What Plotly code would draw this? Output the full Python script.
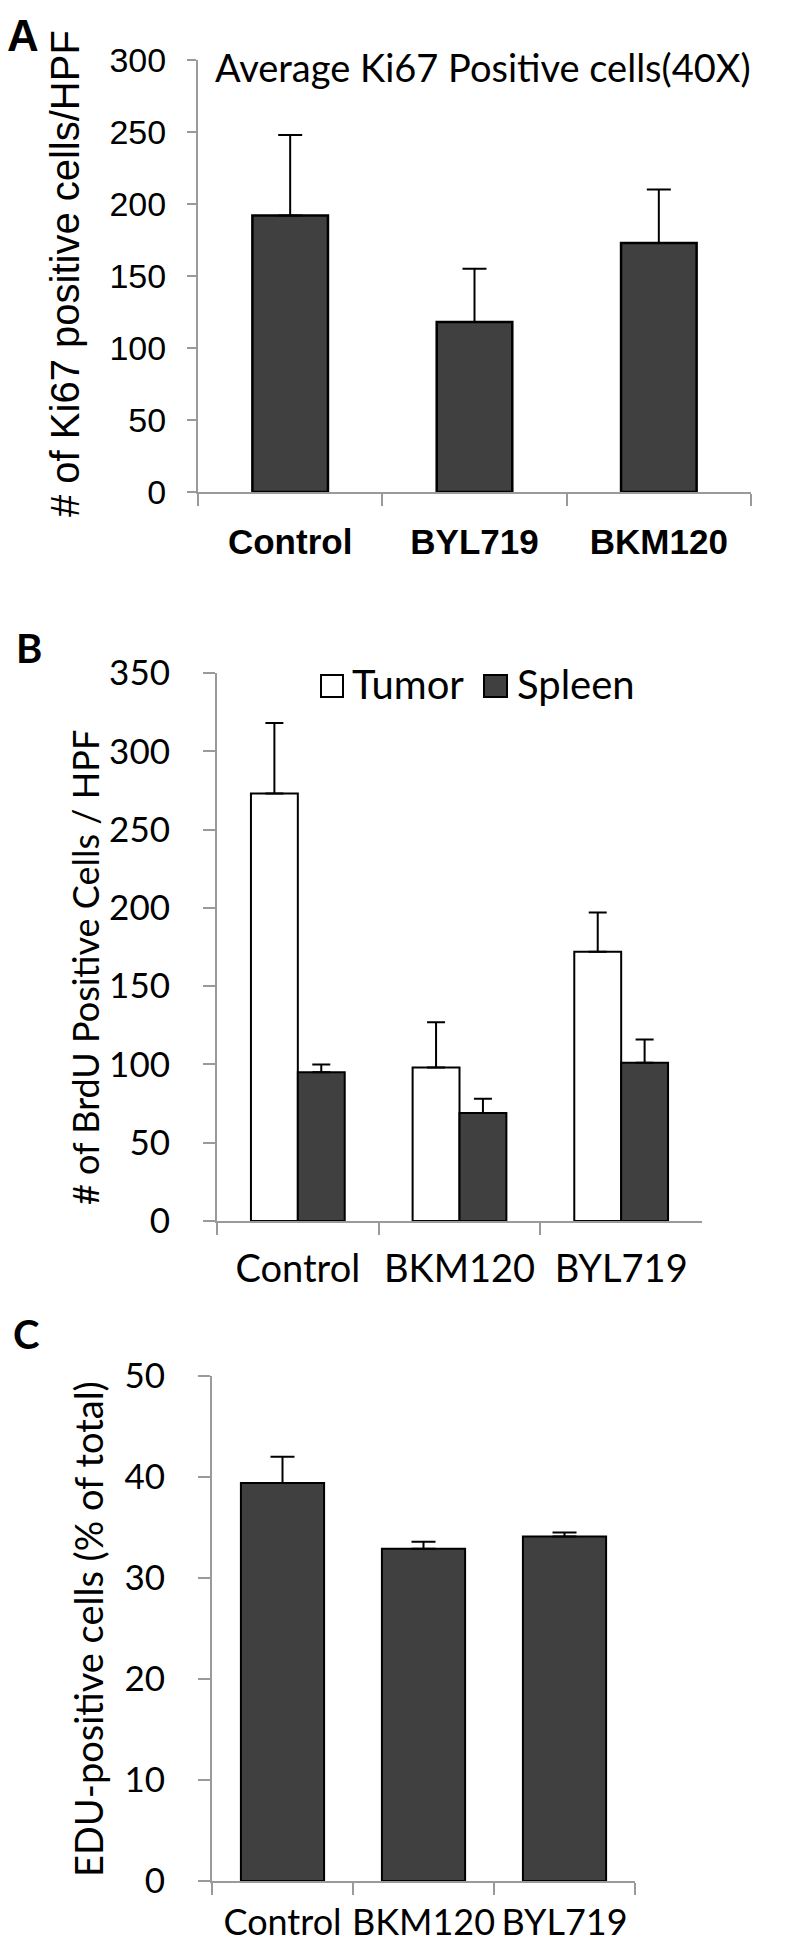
"""Trois panneaux de barres : Ki67 (A), BrdU (B) et EdU (C)"""
import plotly.graph_objects as go

# ---- donnees ----
a_cats = ["Control", "BYL719", "BKM120"]
a_vals = [192, 118, 173]
a_err = [56, 37, 37]

b_cats = ["Control", "BKM120", "BYL719"]
b_tumor = [273, 98, 172]
b_tumor_err = [45, 29, 25]
b_spleen = [95, 69, 101]
b_spleen_err = [5, 9, 15]

c_cats = ["Control", "BKM120", "BYL719"]
c_vals = [39.4, 32.9, 34.1]
c_err = [2.6, 0.7, 0.4]

W, H = 786, 1942
DARK = "#404040"
GREY = "#9a9a9a"
CAL = "Lato"
ARI = "Liberation Sans"


def px(x, y):
    """pixels -> coordonnees papier"""
    return x / W, 1 - y / H


def dom_x(x0, x1):
    return [x0 / W, x1 / W]


def dom_y(top, bottom):
    return [1 - bottom / H, 1 - top / H]


fig = go.Figure()

# A
fig.add_trace(go.Bar(x=a_cats, y=a_vals, width=0.41, xaxis="x", yaxis="y",
                     marker=dict(color=DARK, line=dict(color="black", width=2.5)),
                     error_y=dict(type="data", array=a_err, arrayminus=[0] * 3,
                                  symmetric=False, color="black", thickness=2, width=12),
                     showlegend=False))

# B
fig.add_trace(go.Bar(x=b_cats, y=b_tumor, width=0.29, offset=-0.29, xaxis="x2", yaxis="y2",
                     name="Tumor",
                     marker=dict(color="white", line=dict(color="black", width=2)),
                     error_y=dict(type="data", array=b_tumor_err, arrayminus=[0] * 3,
                                  symmetric=False, color="black", thickness=2, width=9),
                     showlegend=False))
fig.add_trace(go.Bar(x=b_cats, y=b_spleen, width=0.29, offset=0, xaxis="x2", yaxis="y2",
                     name="Spleen",
                     marker=dict(color=DARK, line=dict(color="black", width=2)),
                     error_y=dict(type="data", array=b_spleen_err, arrayminus=[0] * 3,
                                  symmetric=False, color="black", thickness=2, width=9),
                     showlegend=False))

# C
fig.add_trace(go.Bar(x=c_cats, y=c_vals, width=0.59, xaxis="x3", yaxis="y3",
                     marker=dict(color=DARK, line=dict(color="black", width=2)),
                     error_y=dict(type="data", array=c_err, arrayminus=[0] * 3,
                                  symmetric=False, color="black", thickness=2, width=12),
                     showlegend=False))

xbase = dict(showline=True, linecolor=GREY, linewidth=2, ticks="outside", tickson="boundaries",
             ticklen=12, tickwidth=2, tickcolor=GREY, showgrid=False, fixedrange=True,
             automargin=False, tickangle=0)
ybase = dict(showline=True, linecolor=GREY, linewidth=2, ticks="outside", ticklen=9,
             tickwidth=2, tickcolor=GREY, showgrid=False, zeroline=False, fixedrange=True,
             automargin=False)

fig.update_layout(
    width=W, height=H, margin=dict(l=0, r=0, t=0, b=0),
    paper_bgcolor="white", plot_bgcolor="white", showlegend=False,
    xaxis=dict(xbase, domain=dom_x(190, 743), anchor="y", ticklabelstandoff=18,
               tickfont=dict(family=ARI, size=35, color="black", weight="bold")),
    yaxis=dict(ybase, domain=dom_y(52, 484), anchor="x", range=[0, 300], dtick=50,
               ticklabelstandoff=14, tickfont=dict(family=ARI, size=34, color="black")),
    xaxis2=dict(xbase, domain=dom_x(209, 694), anchor="y2", ticklabelstandoff=13,
                tickfont=dict(family=CAL, size=38, color="black")),
    yaxis2=dict(ybase, domain=dom_y(665, 1213), anchor="x2", range=[0, 350], dtick=50,
                ticklen=12, ticklabelstandoff=26,
                tickfont=dict(family=CAL, size=35, color="black")),
    xaxis3=dict(xbase, domain=dom_x(204, 627), anchor="y3", ticklabelstandoff=9,
                tickfont=dict(family=CAL, size=36, color="black")),
    yaxis3=dict(ybase, domain=dom_y(1368, 1873), anchor="x3", range=[0, 50], dtick=10,
                ticklen=12, ticklabelstandoff=26,
                tickfont=dict(family=CAL, size=35, color="black")),
)


def note(text, x, y, size, family=CAL, bold=False, angle=0, xanchor="center"):
    xp, yp = px(x, y)
    fig.add_annotation(text=text, x=xp, y=yp, xref="paper", yref="paper", showarrow=False,
                       textangle=angle, xanchor=xanchor, yanchor="middle",
                       font=dict(family=family, size=size, color="black",
                                 weight="bold" if bold else "normal"))


# lettres de panneau
note("A", 15, 27, 44, family=ARI, bold=True)
note("B", 21, 640, 40, bold=True)
note("C", 18, 1326, 40, bold=True)

# titres
note("Average Ki67 Positive cells(40X)", 475, 59, 38)
note("# of Ki67 positive cells/HPF", 57, 266, 40, family=ARI, angle=-90)
note("# of BrdU Positive Cells / HPF", 77, 960, 36, angle=-90)
note("EDU-positive cells (% of total)", 80, 1621, 38, angle=-90)

# legende B
for (x0, x1), fill, label, tx in [((313, 335), "white", "Tumor", 342),
                                  ((476, 499), DARK, "Spleen", 507)]:
    a0, b0 = px(x0, 667)
    a1, b1 = px(x1, 689)
    fig.add_shape(type="rect", xref="paper", yref="paper", x0=a0, x1=a1, y0=b1, y1=b0,
                  fillcolor=fill, line=dict(color="black", width=2))
    note(label, tx, 676, 40, xanchor="left")

fig.write_html("out.html")
